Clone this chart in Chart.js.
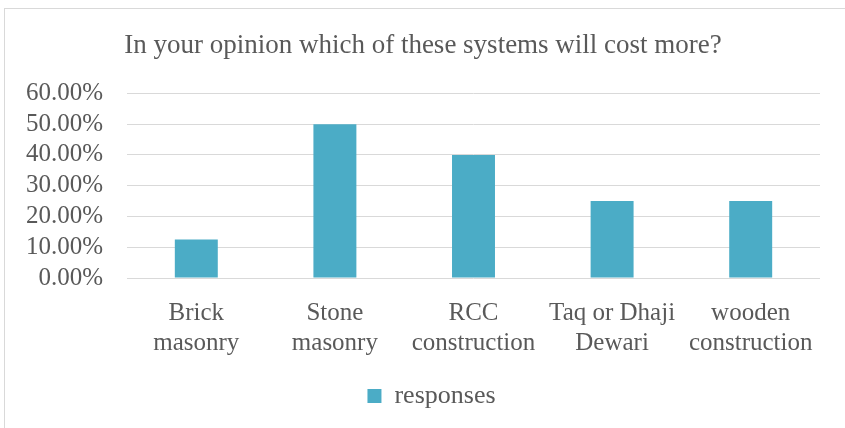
<!DOCTYPE html>
<html>
<head>
<meta charset="utf-8">
<script src="https://cdn.jsdelivr.net/npm/chart.js@4/dist/chart.umd.min.js"></script>
<style>
  body { margin: 0; background: #fff; overflow: hidden; }
  #box {
    position: absolute; left: 4px; top: 8px;
    width: 841px; height: 420px;
    border-top: 1px solid #d9d9d9; border-left: 1px solid #d9d9d9;
    box-sizing: border-box;
  }
</style>
</head>
<body>
<div id="box"><canvas id="chart"></canvas></div>
<script>
const categories = [
    ['Brick', 'masonry'],
    ['Stone', 'masonry'],
    ['RCC', 'construction'],
    ['Taq or Dhaji', 'Dewari'],
    ['wooden', 'construction']
];
const responses = [12.5, 50, 40, 25, 25];
const yTicks = [0, 10, 20, 30, 40, 50, 60];

const serif = 'Liberation Serif, Times New Roman, serif';

// centre title and legend on the whole frame, like the original
const recenter = {
    id: 'recenter',
    afterLayout(chart) {
        if (chart.titleBlock) {
            chart.titleBlock.left = 0;
            chart.titleBlock.right = chart.width - 4;
        }
        if (chart.legend) {
            chart.legend.left += 19;
            chart.legend.right += 19;
        }
    }
};

const ctx = document.getElementById('chart').getContext('2d');
new Chart(ctx, {
    type: 'bar',
    data: {
        labels: categories,
        datasets: [{
            label: 'responses',
            data: responses,
            backgroundColor: '#4bacc6',
            barPercentage: 0.62,
            categoryPercentage: 0.5
        }]
    },
    plugins: [recenter],
    options: {
        responsive: true,
        maintainAspectRatio: false,
        animation: false,
        layout: { padding: { left: 0, right: 25, top: 18, bottom: 9 } },
        plugins: {
            title: {
                display: true,
                text: 'In your opinion which of these systems will cost more?',
                color: '#595959',
                font: { family: serif, size: 27, weight: 'normal' },
                padding: { top: 3, bottom: 31 }
            },
            legend: {
                position: 'bottom',
                labels: {
                    color: '#595959',
                    font: { family: serif, size: 26 },
                    boxWidth: 14,
                    boxHeight: 14,
                    padding: 13
                }
            },
            tooltip: { enabled: false }
        },
        scales: {
            x: {
                grid: { display: false },
                border: { display: false },
                ticks: {
                    color: '#595959',
                    font: { family: serif, size: 25, lineHeight: 1.2 },
                    maxRotation: 0,
                    autoSkip: false,
                    padding: 12
                }
            },
            y: {
                min: 0,
                max: 60,
                afterBuildTicks: axis => { axis.ticks = yTicks.map(v => ({ value: v })); },
                afterFit: axis => { axis.width = 122; },
                grid: { color: '#d9d9d9', lineWidth: 1, drawTicks: false },
                border: { display: false },
                ticks: {
                    color: '#595959',
                    font: { family: serif, size: 25 },
                    padding: 24,
                    autoSkip: false,
                    callback: v => v.toFixed(2) + '%'
                }
            }
        }
    }
});
</script>
</body>
</html>
